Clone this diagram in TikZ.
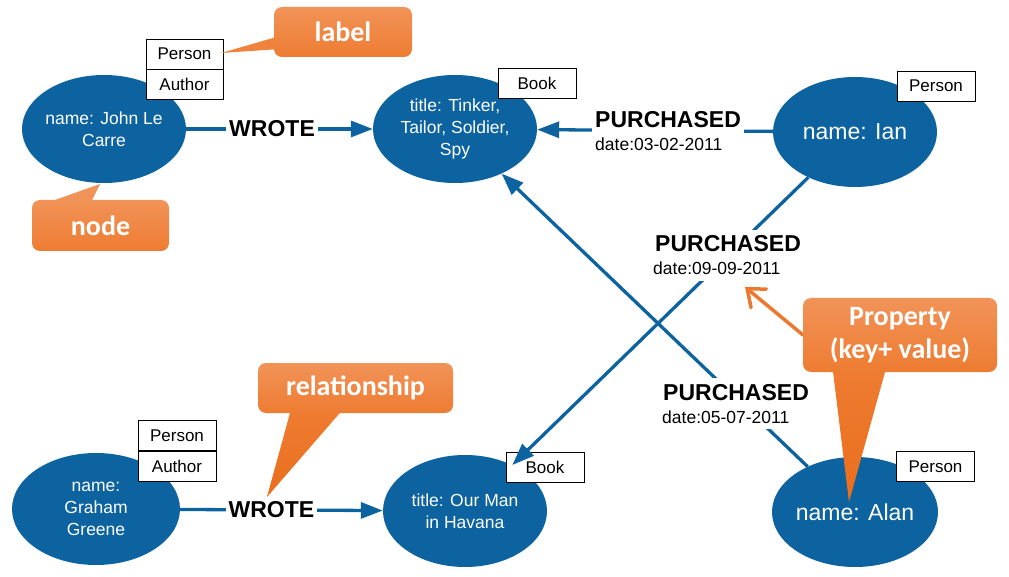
\documentclass[tikz,border=0pt]{standalone}
\usepackage{fontspec}
\setmainfont{Liberation Sans}
\newfontfamily\calloutfont{Carlito}
\usetikzlibrary{shapes.geometric,arrows.meta}

\definecolor{entblue}{RGB}{12,99,160}
\definecolor{orL}{RGB}{241,147,88}
\definecolor{orM}{RGB}{238,124,50}
\definecolor{orD}{RGB}{234,110,28}
\definecolor{orArrow}{RGB}{236,120,45}

\tikzset{
  ent/.style={ellipse, fill=entblue, text=white, align=center, inner sep=-6pt,
    font=\fontsize{17.5}{22}\selectfont},
  entbig/.style={ent, font=\fontsize{23}{27}\selectfont},
  tag/.style={draw=black, line width=0.9pt, fill=white, minimum width=78pt,
    minimum height=30pt, inner sep=0pt, font=\fontsize{17}{20}\selectfont},
  edge/.style={draw=entblue, line width=3.3pt, -{Triangle[length=22pt,width=16pt]}},
  wrote/.style={fill=white, inner xsep=3pt, inner ysep=4pt,
    font=\bfseries\fontsize{23}{26}\selectfont},
  relname/.style={fill=white, inner xsep=3pt, inner ysep=6pt, anchor=base west,
    font=\bfseries\fontsize{23}{26}\selectfont},
  reldate/.style={fill=white, inner xsep=3pt, inner ysep=6pt, anchor=base west,
    font=\fontsize{17.5}{21}\selectfont},
  callout/.style={rounded corners=8pt, top color=orL, bottom color=orM,
    text=white, inner sep=0pt, align=center,
    font=\calloutfont\bfseries\fontsize{28}{33}\selectfont},
  pointer/.style={draw=orArrow, line width=3.5pt, line cap=round,
    -{Straight Barb[length=15pt,width=24pt,line cap=round]}}
}

\begin{document}
\begin{tikzpicture}[x=1pt,y=-1pt]
\path[use as bounding box] (0,0) rectangle (1009,577);

% entities
\node[ent, minimum width=164pt, minimum height=108pt] (john) at (104,129) {name: John Le\\Carre};
\node[ent, minimum width=164pt, minimum height=108pt] (tinker) at (455,129) {title: Tinker,\\Tailor, Soldier,\\Spy};
\node[entbig, minimum width=164pt, minimum height=110pt] (ian) at (855,132) {name: Ian};
\node[ent, minimum width=168pt, minimum height=112pt] (graham) at (96,509) {name:\\Graham\\Greene};
\node[ent, minimum width=164pt, minimum height=112pt] (havana) at (465,511) {title: Our Man\\in Havana};
\node[entbig, minimum width=166pt, minimum height=110pt] (alan) at (855,512) {name: Alan};

% labels of the entities
\node[tag, minimum width=77pt] (jperson) at (184.5,54) {Person};
\node[tag, minimum width=77pt, anchor=north] (jauthor) at (jperson.south) {Author};
\node[tag] (tbook) at (537,83.5) {Book};
\node[tag] (iperson) at (936,86) {Person};
\node[tag] (gperson) at (177,435.5) {Person};
\node[tag, anchor=north] (gauthor) at (gperson.south) {Author};
\node[tag] (hbook) at (545,467) {Book};
\node[tag] (aperson) at (935.5,466.5) {Person};

% relationships
\draw[edge] (john) -- node[wrote, pos=.46] (w1) {WROTE} (tinker);
\draw[edge] (graham) -- node[wrote, pos=.45] (w2) {WROTE} (havana);
\draw[edge] (ian) -- (tinker);
\draw[edge] (ian) -- (havana);
\draw[edge] (alan) -- (tinker);

% relationship names and properties
\node[relname] (p1) at (592,128) {PURCHASED};
\node[reldate] (d1) at (592,151) {date:03-02-2011};
\node[relname] (p2) at (652,252) {PURCHASED};
\node[reldate] (d2) at (650,275) {date:09-09-2011};
\node[relname] (p3) at (660,400) {PURCHASED};
\node[reldate] (d3) at (659,423) {date:05-07-2011};

% callout tails
\fill[orM!70!orL] (280,36) -- (280,49) -- (221,53) -- cycle;
\fill[orL] (100,184) -- (38,206) -- (89,206) -- cycle;
\shade[top color=orM, bottom color=orD] (267,497) -- (291.6,407) -- (345,407) -- cycle;
\shade[top color=orM, bottom color=orD] (849,502) -- (832.3,366) -- (886.7,366) -- cycle;

% callout boxes
\coordinate (ptip) at (745,287);
\node[callout, minimum width=138pt, minimum height=50pt] (clabel) at (343,32) {label};
\node[callout, minimum width=137pt, minimum height=51pt] (cnode) at (100.5,225.5) {node};
\node[callout, minimum width=195pt, minimum height=50pt] (crel) at (355.5,388) {relationship};
\draw[pointer] (803,335) -- (ptip);
\node[callout, minimum width=194pt, minimum height=74pt] (cprop) at (900,335) {Property\\(key+ value)};
\end{tikzpicture}
\end{document}
